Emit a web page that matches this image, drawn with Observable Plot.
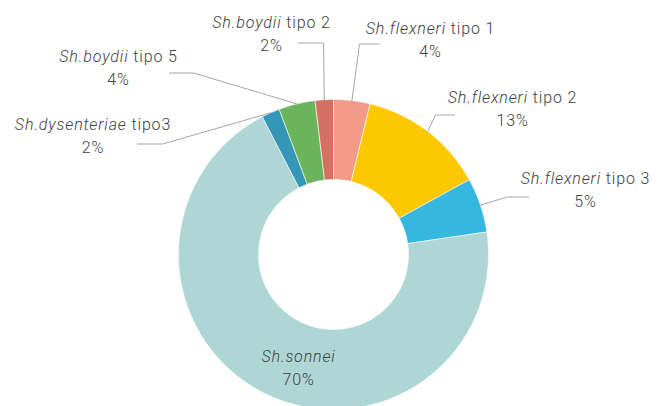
<!DOCTYPE html>
<html><head><meta charset="utf-8">
<script src="https://cdn.jsdelivr.net/npm/d3@7"></script>
<script src="https://cdn.jsdelivr.net/npm/@observablehq/plot@0.6"></script>
<style>body{margin:0;background:#fff}</style>
</head><body><div id="chart"></div>
<script>
// ---- data ----
const categories = ["Sh.flexneri tipo 1", "Sh.flexneri tipo 2", "Sh.flexneri tipo 3", "Sh.sonnei", "Sh.dysenteriae tipo3", "Sh.boydii tipo 5", "Sh.boydii tipo 2"];
const values = [3.8, 13.2, 5.7, 69.8, 1.9, 3.8, 1.9];
const percentLabels = ["4%", "13%", "5%", "70%", "2%", "4%", "2%"];

// ---- style / layout ----
const sliceColors = ["#F29B88", "#FDC800", "#35B7E0", "#ADD6D5", "#3497B6", "#6AB45C", "#D4705F"];
const W = 661, H = 406, CX = 333, CY = 254, R_OUT = 155, R_IN = 75;
// label layout in pixel coords: text centre (line 1), leader start, leader elbow
const labelLayout = {
  "Sh.flexneri tipo 1":   {tx: 430, ty: 28.5, lead: [[379, 43.5], [359, 43.5]]},
  "Sh.flexneri tipo 2":   {tx: 512, ty: 97.5, lead: [[454, 114.5], [435, 114.5]]},
  "Sh.flexneri tipo 3":   {tx: 585, ty: 178.5, lead: [[528, 196.5], [507, 196.5]]},
  "Sh.sonnei":            {tx: 298, ty: 356.5, lead: null},
  "Sh.dysenteriae tipo3": {tx: 92.5, ty: 124, lead: [[137, 143.5], [162, 143.5]]},
  "Sh.boydii tipo 5":     {tx: 118, ty: 56.5, lead: [[169, 72.5], [193, 72.5]]},
  "Sh.boydii tipo 2":     {tx: 271, ty: 22.5, lead: [[298, 42.5], [323, 42.5]]}
};
const LINE_GAP = 23;

const total = d3.sum(values);
const toX = px => px - CX, toY = py => CY - py;

const polys = [], leaders = [], labels = [];
let acc = 0;
categories.forEach((cat, i) => {
  const a0 = acc / total * 2 * Math.PI;
  acc += values[i];
  const a1 = acc / total * 2 * Math.PI;
  const n = Math.max(4, Math.ceil((a1 - a0) / (Math.PI / 360)));
  for (let k = 0; k <= n; k++) {
    const a = a0 + (a1 - a0) * k / n;
    polys.push({cat, x: R_OUT * Math.sin(a), y: R_OUT * Math.cos(a)});
  }
  for (let k = n; k >= 0; k--) {
    const a = a0 + (a1 - a0) * k / n;
    polys.push({cat, x: R_IN * Math.sin(a), y: R_IN * Math.cos(a)});
  }
  polys.push({cat, x: R_OUT * Math.sin(a0), y: R_OUT * Math.cos(a0)});
  const L = labelLayout[cat];
  const mid = (a0 + a1) / 2;
  if (L.lead) {
    L.lead.forEach(([px, py]) => leaders.push({cat, x: toX(px), y: toY(py)}));
    leaders.push({cat, x: R_OUT * Math.sin(mid), y: R_OUT * Math.cos(mid)});
  }
  labels.push({cat, name: cat, pct: percentLabels[i], x: toX(L.tx), y: toY(L.ty), y2: toY(L.ty + LINE_GAP)});
});

const font = "Roboto, 'Liberation Sans', sans-serif";
const chart = Plot.plot({
  width: W, height: H,
  margin: 0,
  x: {domain: [-CX, W - CX], axis: null},
  y: {domain: [CY - H, CY], axis: null},
  color: {domain: categories, range: sliceColors},
  style: {background: "white", fontFamily: font},
  marks: [
    Plot.line(polys, {x: "x", y: "y", z: "cat", fill: "cat", stroke: "white", strokeWidth: 0.6, curve: "linear"}),
    Plot.line(leaders, {x: "x", y: "y", z: "cat", stroke: "#A6A6A6", strokeWidth: 1}),
    Plot.text(labels, {x: "x", y: "y", text: "name", fontSize: 16, fill: "#404040", fontWeight: 300, className: "labname"}),
    Plot.text(labels, {x: "x", y: "y2", text: "pct", fontSize: 16, fill: "#404040", fontWeight: 300, className: "labpct"})
  ]
});
document.getElementById("chart").appendChild(chart);

// italicise species part of each name
d3.select(chart).selectAll(".labname text").each(function() {
  const t = this.textContent;
  const sp = t.indexOf(" ");
  const sel = d3.select(this);
  sel.text(null);
  sel.append("tspan").attr("font-style", "italic").text(sp < 0 ? t : t.slice(0, sp));
  if (sp >= 0) sel.append("tspan").text(t.slice(sp));
});
d3.select(chart).selectAll(".labname, .labpct").attr("letter-spacing", "0.85px");
</script>
</body></html>
